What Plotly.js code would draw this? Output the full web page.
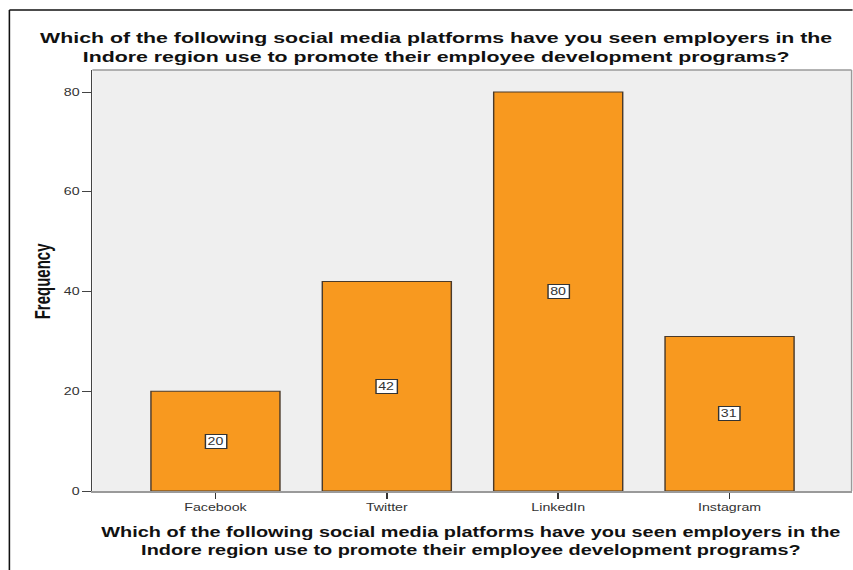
<!DOCTYPE html>
<html>
<head>
<meta charset="utf-8">
<script src="https://cdn.plot.ly/plotly-3.0.1.min.js"></script>
<style>
html,body{margin:0;padding:0;background:#fff;overflow:hidden;}
#wrap{width:853px;height:570px;overflow:hidden;}
#chart{width:600px;height:570px;transform-origin:0 0;}
</style>
</head>
<body>
<div id="wrap"><div id="chart"></div></div>
<script>
const categories = ["Facebook", "Twitter", "LinkedIn", "Instagram"];
const frequencies = [20, 42, 80, 31];
const yTicks = [0, 20, 40, 60, 80];
const titleText = "Which of the following social media platforms have you seen employers in the<br>Indore region use to promote their employee development programs?";
const yTitle = "Frequency";

// The reference image is horizontally stretched; draw at 600px wide and stretch to 853px.
const OUT_W = 853, W = 600, H = 570;
const S = OUT_W / W;
document.getElementById("chart").style.transform = "scaleX(" + S + ")";

const L = 93 / S, R = 0.7, T = 70, B = 79;
const pw = W - L - R, ph = H - T - B;
const px = x => (x / S - L) / pw;     // original-image x pixel -> paper
const py = y => (H - B - y) / ph;     // original-image y pixel -> paper

const trace = {
  type: "bar",
  x: categories,
  y: frequencies,
  marker: { color: "#f8991f", line: { color: "#4a3a2a", width: 1 } },
  hoverinfo: "none"
};

const valueLabels = categories.map((c, i) => ({
  x: c, y: frequencies[i] / 2, xref: "x", yref: "y",
  text: String(frequencies[i]), showarrow: false,
  font: { family: "Liberation Sans", size: 10, color: "#333" },
  bgcolor: "#ffffff", bordercolor: "#333", borderwidth: 1, borderpad: 1
}));

const layout = {
  width: W, height: H,
  margin: { l: L, r: R, t: T, b: B },
  paper_bgcolor: "#ffffff",
  plot_bgcolor: "#efefef",
  showlegend: false,
  bargap: 0.247,
  xaxis: {
    type: "category",
    range: [-0.718, 3.712],
    showline: true, linecolor: "#9a9a9a", linewidth: 2,
    ticks: "outside", ticklen: 6, tickcolor: "#333", tickwidth: 1,
    showgrid: false, zeroline: false,
    tickfont: { family: "Liberation Sans", size: 10, color: "#333" },
    fixedrange: true
  },
  yaxis: {
    range: [0, 84.41],
    tickvals: yTicks,
    showline: true, linecolor: "#444", linewidth: 1,
    ticks: "outside", ticklen: 6, tickcolor: "#444", tickwidth: 1,
    showgrid: false, zeroline: false,
    tickfont: { family: "Liberation Sans", size: 10, color: "#333" },
    fixedrange: true
  },
  shapes: [
    { type: "line", xref: "paper", yref: "paper", x0: 0, x1: 1, y0: 1, y1: 1, line: { color: "#9a9a9a", width: 1.5 } },
    { type: "line", xref: "paper", yref: "paper", x0: 1, x1: 1, y0: 0, y1: 1, line: { color: "#9a9a9a", width: 1 } },
    { type: "line", xref: "paper", yref: "paper", x0: px(10), x1: px(853), y0: py(10), y1: py(10), line: { color: "#111", width: 1.5 } },
    { type: "line", xref: "paper", yref: "paper", x0: px(10), x1: px(10), y0: py(10), y1: py(570), line: { color: "#111", width: 1.1 } }
  ],
  annotations: [
    { xref: "paper", yref: "paper", x: px(437), y: py(47), xanchor: "center", yanchor: "middle",
      text: "<b>" + titleText + "</b>", showarrow: false,
      font: { family: "Liberation Sans", size: 15, color: "#111" } },
    { xref: "paper", yref: "paper", x: px(472), y: py(541), xanchor: "center", yanchor: "middle",
      text: "<b>" + titleText + "</b>", showarrow: false,
      font: { family: "Liberation Sans", size: 14, color: "#111" } },
    { xref: "paper", yref: "paper", x: px(43), y: 0.5, xanchor: "center", yanchor: "middle",
      text: "<b>" + yTitle + "</b>", textangle: -90, showarrow: false,
      font: { family: "Liberation Sans", size: 15, color: "#111" } }
  ].concat(valueLabels)
};

Plotly.newPlot("chart", [trace], layout, { displayModeBar: false, staticPlot: true });
</script>
</body>
</html>
